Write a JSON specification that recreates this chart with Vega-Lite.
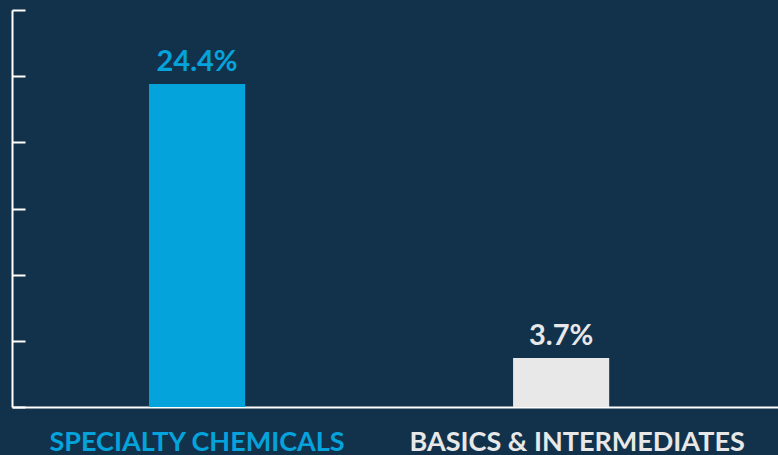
{
  "$schema": "https://vega.github.io/schema/vega-lite/v6.json",
  "width": 766,
  "height": 397,
  "autosize": {"type": "none"},
  "padding": {"left": 12, "top": 10, "right": 0, "bottom": 48},
  "background": "#12324c",
  "data": {
    "values": [
      {"segment": "SPECIALTY CHEMICALS", "value": 24.4, "label": "24.4%"},
      {"segment": "BASICS & INTERMEDIATES", "value": 3.7, "label": "3.7%"}
    ]
  },
  "config": {
    "view": {"stroke": null},
    "font": "Lato"
  },
  "encoding": {
    "x": {
      "field": "segment",
      "type": "nominal",
      "sort": null,
      "scale": {"paddingInner": 0.736, "paddingOuter": 0.42, "align": 0.448},
      "axis": {
        "title": null,
        "domainColor": "#ffffff",
        "domainWidth": 2,
        "ticks": false,
        "labelAngle": 0,
        "labelLimit": 0,
        "labelOverlap": false,
        "labelFont": "Lato",
        "labelFontSize": 27,
        "labelFontWeight": "bold",
        "labelPadding": 22,
        "labelColor": {"condition": {"test": "datum.value == 'SPECIALTY CHEMICALS'", "value": "#05a3dc"}, "value": "#e8e8e8"},
        "labelOffset": {"condition": {"test": "datum.value == 'SPECIALTY CHEMICALS'", "value": 0}, "value": 16}
      }
    },
    "y": {
      "field": "value",
      "type": "quantitative",
      "scale": {"domain": [0, 30], "nice": false},
      "axis": {
        "title": null,
        "values": [0, 5, 10, 15, 20, 25, 30],
        "labels": false,
        "grid": false,
        "domainColor": "#ffffff",
        "domainWidth": 2,
        "tickColor": "#ffffff",
        "tickWidth": 2,
        "tickSize": -13
      }
    }
  },
  "layer": [
    {
      "mark": {"type": "bar"},
      "encoding": {
        "color": {
          "field": "segment",
          "type": "nominal",
          "scale": {"domain": ["SPECIALTY CHEMICALS", "BASICS & INTERMEDIATES"], "range": ["#05a3dc", "#e8e8e8"]},
          "legend": null
        }
      }
    },
    {
      "mark": {"type": "text", "dy": -22, "font": "Lato", "fontSize": 29, "fontWeight": "bold"},
      "encoding": {
        "text": {"field": "label"},
        "color": {
          "field": "segment",
          "type": "nominal",
          "scale": {"domain": ["SPECIALTY CHEMICALS", "BASICS & INTERMEDIATES"], "range": ["#05a3dc", "#e8e8e8"]},
          "legend": null
        }
      }
    }
  ]
}
